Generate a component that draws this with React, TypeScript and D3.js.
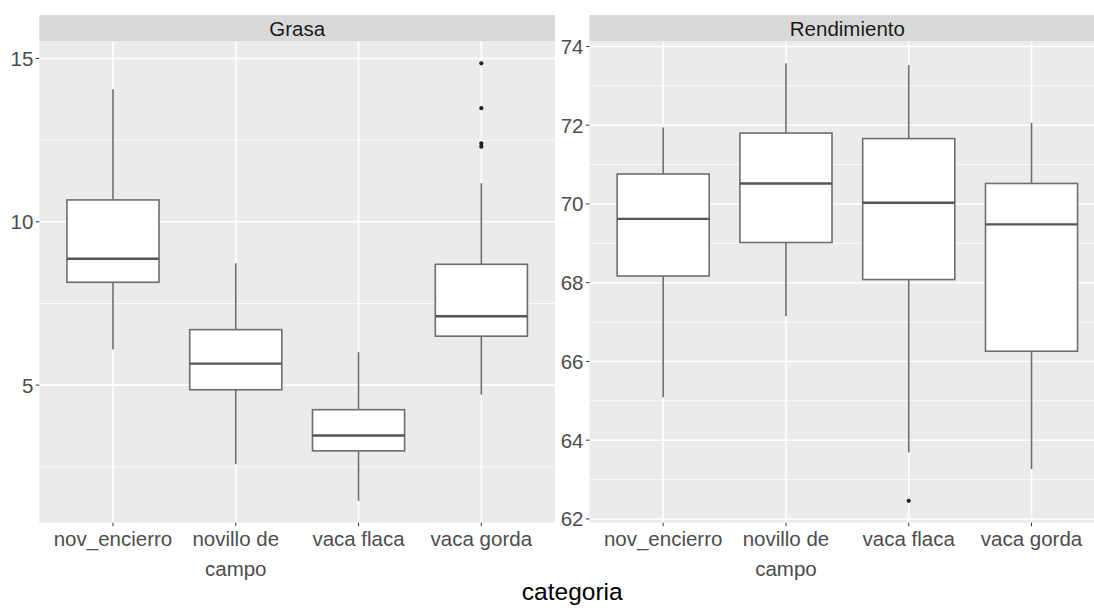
import React from "react";
import * as d3 from "d3";

// Categories shared by both facets
const categories = ["nov_encierro", "novillo de\ncampo", "vaca flaca", "vaca gorda"];

// Grasa: box-plot five-number summaries per category
const grasaLower = [6.09, 2.58, 1.46, 4.71];
const grasaQ1 = [8.15, 4.86, 2.99, 6.5];
const grasaMedian = [8.87, 5.66, 3.46, 7.11];
const grasaQ3 = [10.67, 6.7, 4.25, 8.7];
const grasaUpper = [14.06, 8.73, 6.01, 11.18];
const grasaOutliers = [[], [], [], [14.85, 13.48, 12.4, 12.3]];
const grasaTicks = [5, 10, 15];
const grasaMinor = [2.5, 7.5, 12.5];

// Rendimiento: box-plot five-number summaries per category
const rendLower = [65.09, 67.15, 63.69, 63.27];
const rendQ1 = [68.17, 69.02, 68.08, 66.26];
const rendMedian = [69.62, 70.52, 70.03, 69.48];
const rendQ3 = [70.76, 71.8, 71.66, 70.52];
const rendUpper = [71.94, 73.57, 73.53, 72.06];
const rendOutliers = [[], [], [62.46], []];
const rendTicks = [62, 64, 66, 68, 70, 72, 74];
const rendMinor = [63, 65, 67, 69, 71, 73];

const W = 1094;
const H = 608;
const stripTop = 15;
const panelTop = 41.5;
const panelBottom = 522.7;
const panelWidth = 515.7;
const FONT = "'Liberation Sans', Arial, Helvetica, sans-serif";

type PanelProps = {
  title: string;
  left: number;
  lower: number[];
  q1: number[];
  median: number[];
  q3: number[];
  upper: number[];
  outliers: number[][];
  ticks: number[];
  minor: number[];
};

function Panel({ title, left, lower, q1, median, q3, upper, outliers, ticks, minor }: PanelProps) {
  const right = left + panelWidth;
  const all = [...lower, ...upper, ...outliers.flat()];
  const lo = d3.min(all) as number;
  const hi = d3.max(all) as number;
  const pad = (hi - lo) * 0.05;
  const y = d3.scaleLinear().domain([lo - pad, hi + pad]).range([panelBottom, panelTop]);
  const x = d3.scalePoint<string>().domain(categories).range([left, right]).padding(0.6);
  const step = x.step();
  const boxW = step * 0.75;

  return (
    <g>
      {/* strip */}
      <rect x={left} y={stripTop} width={panelWidth} height={panelTop - stripTop} fill="#D9D9D9" />
      <text
        x={(left + right) / 2}
        y={(stripTop + panelTop) / 2}
        dy="0.36em"
        textAnchor="middle"
        fontSize={20.5}
        fill="#1A1A1A"
        fontFamily={FONT}
      >
        {title}
      </text>
      {/* panel background */}
      <rect x={left} y={panelTop} width={panelWidth} height={panelBottom - panelTop} fill="#EBEBEB" />
      {minor.map((v) => (
        <line key={"mn" + v} x1={left} x2={right} y1={y(v)} y2={y(v)} stroke="#FFFFFF" strokeWidth={0.8} />
      ))}
      {ticks.map((v) => (
        <line key={"mj" + v} x1={left} x2={right} y1={y(v)} y2={y(v)} stroke="#FFFFFF" strokeWidth={1.6} />
      ))}
      {categories.map((c) => (
        <line key={"vx" + c} x1={x(c)} x2={x(c)} y1={panelTop} y2={panelBottom} stroke="#FFFFFF" strokeWidth={1.6} />
      ))}
      {/* boxes */}
      {categories.map((c, i) => {
        const cx = x(c) as number;
        return (
          <g key={"box" + c}>
            <line x1={cx} x2={cx} y1={y(upper[i])} y2={y(q3[i])} stroke="#6E6E6E" strokeWidth={1.6} />
            <line x1={cx} x2={cx} y1={y(q1[i])} y2={y(lower[i])} stroke="#6E6E6E" strokeWidth={1.6} />
            <rect
              x={cx - boxW / 2}
              y={y(q3[i])}
              width={boxW}
              height={y(q1[i]) - y(q3[i])}
              fill="#FFFFFF"
              stroke="#6E6E6E"
              strokeWidth={1.6}
            />
            <line
              x1={cx - boxW / 2}
              x2={cx + boxW / 2}
              y1={y(median[i])}
              y2={y(median[i])}
              stroke="#555555"
              strokeWidth={2.4}
            />
            {outliers[i].map((v, k) => (
              <circle key={k} cx={cx} cy={y(v)} r={2.1} fill="#222222" />
            ))}
          </g>
        );
      })}
      {/* y axis */}
      {ticks.map((v) => (
        <g key={"yt" + v}>
          <line x1={left - 3.5} x2={left} y1={y(v)} y2={y(v)} stroke="#333333" strokeWidth={1} />
          <text
            x={left - 6}
            y={y(v)}
            dy="0.36em"
            textAnchor="end"
            fontSize={20.5}
            fill="#4D4D4D"
            fontFamily={FONT}
          >
            {v}
          </text>
        </g>
      ))}
      {/* x axis */}
      {categories.map((c) => (
        <g key={"xt" + c}>
          <line x1={x(c)} x2={x(c)} y1={panelBottom} y2={panelBottom + 3.5} stroke="#333333" strokeWidth={1} />
          <text textAnchor="middle" fontSize={20.5} fill="#4D4D4D" fontFamily={FONT}>
            {c.split("\n").map((line, k) => (
              <tspan key={k} x={x(c)} y={546 + k * 30}>
                {line}
              </tspan>
            ))}
          </text>
        </g>
      ))}
    </g>
  );
}

export default function App() {
  const leftA = 39.3;
  const leftB = 589.5;
  return (
    <svg
      width={W}
      height={H}
      viewBox={`0 0 ${W} ${H}`}
      style={{ position: "absolute", left: 0, top: 0, display: "block", background: "#FFFFFF" }}
    >
      <rect x={0} y={0} width={W} height={H} fill="#FFFFFF" />
      <Panel
        title="Grasa"
        left={leftA}
        lower={grasaLower}
        q1={grasaQ1}
        median={grasaMedian}
        q3={grasaQ3}
        upper={grasaUpper}
        outliers={grasaOutliers}
        ticks={grasaTicks}
        minor={grasaMinor}
      />
      <Panel
        title="Rendimiento"
        left={leftB}
        lower={rendLower}
        q1={rendQ1}
        median={rendMedian}
        q3={rendQ3}
        upper={rendUpper}
        outliers={rendOutliers}
        ticks={rendTicks}
        minor={rendMinor}
      />
      <text
        x={(leftA + leftB + panelWidth) / 2}
        y={600}
        textAnchor="middle"
        fontSize={24.5}
        fill="#000000"
        fontFamily={FONT}
      >
        categoria
      </text>
    </svg>
  );
}
